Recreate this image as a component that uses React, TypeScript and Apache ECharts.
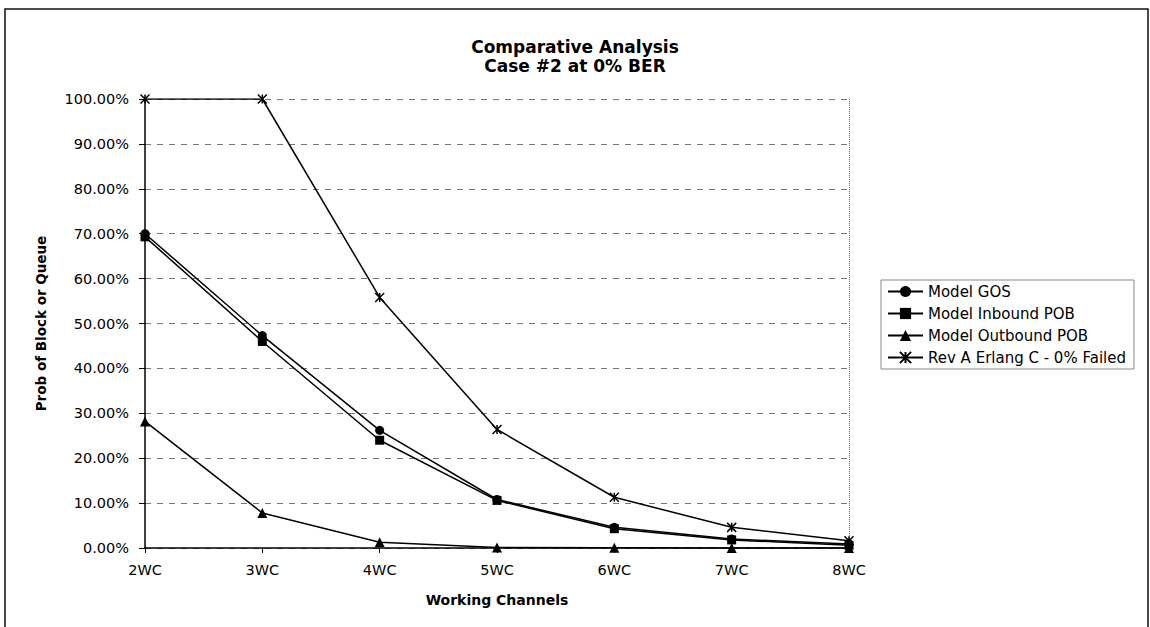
import React, { useEffect, useRef } from "react";
import * as echarts from "echarts";

const categories = ["2WC", "3WC", "4WC", "5WC", "6WC", "7WC", "8WC"];
const modelGOS = [70.0, 47.3, 26.2, 10.8, 4.6, 2.0, 0.9];
const modelInbound = [69.3, 46.0, 24.0, 10.6, 4.3, 1.8, 0.6];
const modelOutbound = [28.2, 7.8, 1.3, 0.1, 0.05, 0.02, 0.01];
const erlangC = [100, 100, 55.8, 26.4, 11.3, 4.6, 1.6];
const seriesNames = [
  "Model GOS",
  "Model Inbound POB",
  "Model Outbound POB",
  "Rev A Erlang C - 0% Failed",
];
const yMin = 0;
const yMax = 100;
const yStep = 10;

const FONT = "DejaVu Sans";
const STAR = "path://M0,0L10,10M10,0L0,10M5,0L5,10";

export default function App() {
  const ref = useRef<HTMLDivElement>(null);
  useEffect(() => {
    if (!ref.current) return;
    const chart = echarts.init(ref.current, null, { renderer: "svg" });
    const lineStyle = { color: "#000", width: 1.5 };
    const mk = (name: string, data: number[], symbol: string, size: number, extra: any = {}) => ({
      name,
      type: "line",
      data,
      symbol,
      symbolSize: size,
      lineStyle,
      itemStyle: { color: "#000", ...extra },
      emphasis: { disabled: true },
    });
    chart.setOption({
      animation: false,
      backgroundColor: "#fff",
      title: {
        text: "Comparative Analysis\nCase #2 at 0% BER",
        left: "center",
        top: 32,
        textStyle: {
          fontFamily: FONT,
          fontSize: 17,
          fontWeight: "bold",
          color: "#000",
          lineHeight: 19,
        },
      },
      legend: {
        orient: "vertical",
        left: 881,
        top: 280,
        padding: [4, 8, 4, 6],
        itemGap: 7,
        itemWidth: 35,
        itemHeight: 14,
        borderColor: "#888",
        borderWidth: 1,
        textStyle: { fontFamily: FONT, fontSize: 15, color: "#000" },
        data: seriesNames,
      },
      grid: { left: 145, right: 301, top: 99, bottom: 79, containLabel: false },
      xAxis: {
        type: "category",
        data: categories,
        boundaryGap: false,
        name: "Working Channels",
        nameLocation: "middle",
        nameGap: 45,
        nameTextStyle: { fontFamily: FONT, fontSize: 14, fontWeight: "bold", color: "#000" },
        axisLine: { lineStyle: { color: "#000", width: 1.5 } },
        axisTick: { show: true, length: 5, lineStyle: { color: "#000" } },
        axisLabel: { fontFamily: FONT, fontSize: 14.5, color: "#000", margin: 14 },
        splitLine: {
          show: true,
          interval: (idx: number) => idx === categories.length - 1,
          lineStyle: { type: "dotted", color: "#666", width: 1 },
        },
      },
      yAxis: {
        type: "value",
        min: yMin,
        max: yMax,
        interval: yStep,
        name: "Prob of Block or Queue",
        nameLocation: "middle",
        nameGap: 97,
        nameTextStyle: { fontFamily: FONT, fontSize: 13.5, fontWeight: "bold", color: "#000" },
        axisLine: { show: true, lineStyle: { color: "#000", width: 1.5 } },
        axisTick: { show: true, length: 6, lineStyle: { color: "#000" } },
        axisLabel: {
          fontFamily: FONT,
          fontSize: 14.5,
          color: "#000",
          margin: 16,
          formatter: (v: number) => v.toFixed(2) + "%",
        },
        splitLine: { show: true, lineStyle: { type: [6, 6], color: "#777", width: 1 } },
      },
      graphic: [
        {
          type: "rect",
          silent: true,
          z: -1,
          shape: { x: 5, y: 9, width: 1143, height: 640 },
          style: { fill: "none", stroke: "#111", lineWidth: 1.5 },
        },
      ],
      series: [
        mk(seriesNames[0], modelGOS, "circle", 9),
        mk(seriesNames[1], modelInbound, "rect", 9),
        mk(seriesNames[2], modelOutbound, "triangle", 10),
        mk(seriesNames[3], erlangC, STAR, 9, {
          color: "transparent",
          borderColor: "#000",
          borderWidth: 1.5,
        }),
      ],
    });
    return () => chart.dispose();
  }, []);
  return (
    <div
      ref={ref}
      style={{ position: "fixed", left: 0, top: 0, width: 1150, height: 627, background: "#fff" }}
    />
  );
}
